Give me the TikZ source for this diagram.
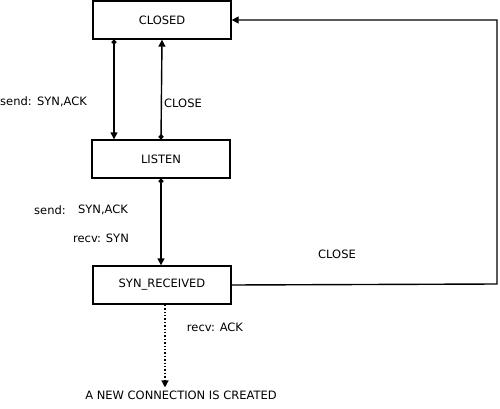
\documentclass[tikz,border=0pt]{standalone}
\usepackage{fontspec}
\setmainfont{DejaVu Sans}
\usetikzlibrary{arrows.meta}
\begin{document}
\begin{tikzpicture}[x=1pt,y=-1pt,
  state/.style={draw,line width=1.4pt,minimum width=138pt,minimum height=38pt,inner sep=0pt,font=\fontsize{11.5}{13}\selectfont},
  lbl/.style={inner sep=0pt,font=\fontsize{11.5}{13}\selectfont},
  tr/.style={line width=1.4pt,-{Triangle[length=7pt,width=7pt]}},
  trd/.style={line width=1.4pt,{Circle[length=5pt]}-{Triangle[length=7pt,width=7pt]}}]
\useasboundingbox (0,0) rectangle (500,409);
\node[state] (closed) at (162,20) {CLOSED};
\node[state] (listen) at (161,159) {LISTEN};
\node[state] (synrec) at (162,285) {SYN\_RECEIVED};
\node[lbl] (newconn) at (181,395) {A NEW CONNECTION IS CREATED};
\draw[trd] ([xshift=-48]closed.south) -- ([xshift=-47]listen.north);
\draw[trd] (listen.north) -- (closed.south);
\draw[trd] (listen.south) -- ([xshift=-1]synrec.north);
\draw[line width=1.4pt,dotted,-{Triangle[length=7pt,width=7pt]},shorten >=3pt] ([xshift=3]synrec.south) -- ([xshift=-16]newconn.north);
\coordinate (c1) at (497,284);
\draw[tr] (synrec.east) -- (c1) |- (closed.east);
\node[lbl] (l1) at (16,101) {send:};
\node[lbl] (l2) at (62,102) {SYN,ACK};
\node[lbl] (l3) at (183,103) {CLOSE};
\node[lbl] (l4) at (50,210) {send:};
\node[lbl] (l5) at (103,210) {SYN,ACK};
\node[lbl] (l6) at (101,238) {recv: SYN};
\node[lbl] (l7) at (337,254) {CLOSE};
\node[lbl] (l8) at (215,327) {recv: ACK};
\end{tikzpicture}
\end{document}
